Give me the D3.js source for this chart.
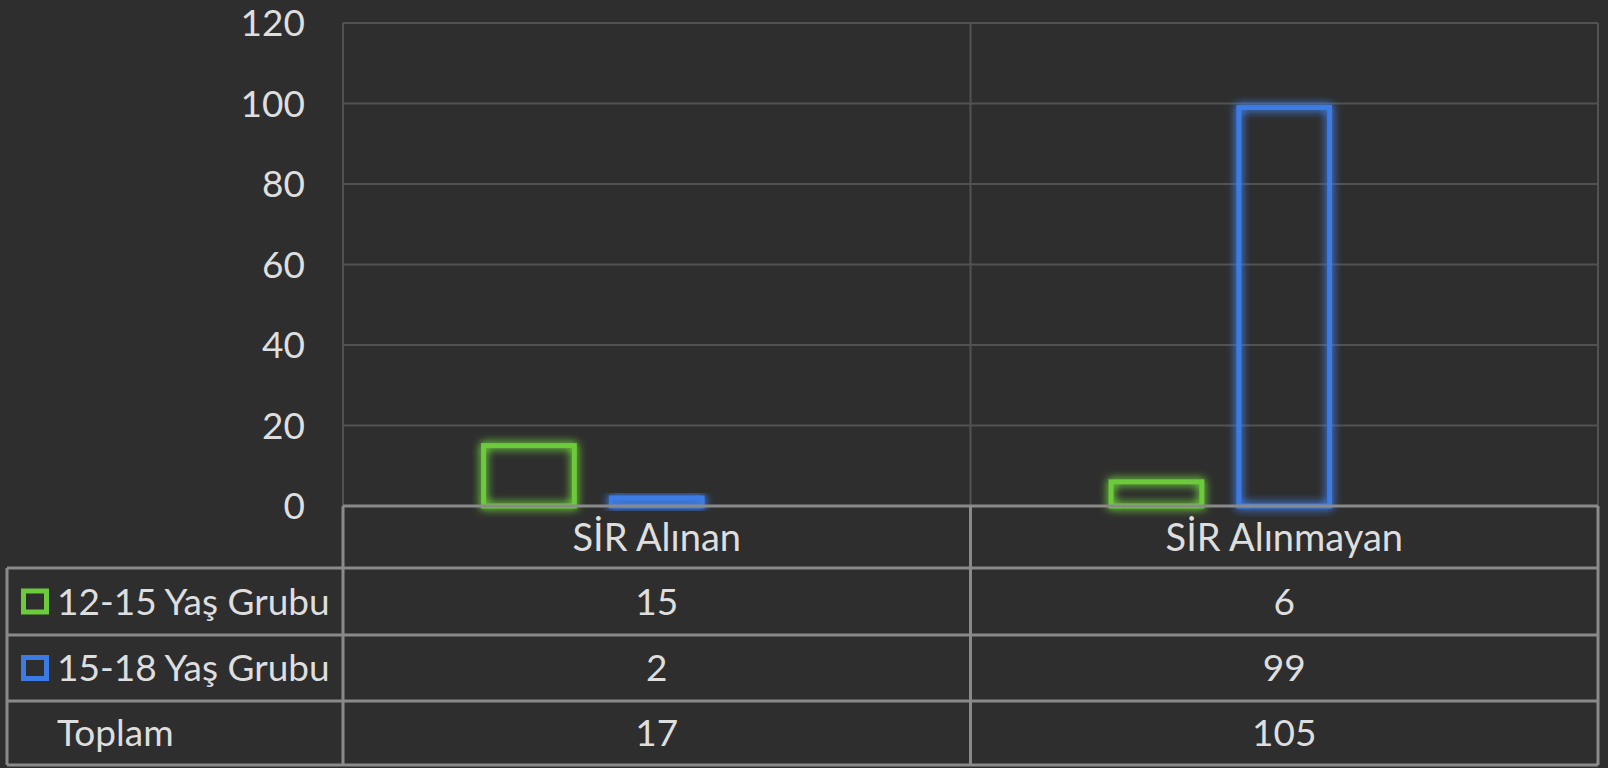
<!DOCTYPE html>
<html>
<head>
<meta charset="utf-8">
<script src="https://cdn.jsdelivr.net/npm/d3@7"></script>
<style>
  html, body { margin: 0; padding: 0; background: #2e2e2e; }
  svg { display: block; }
</style>
</head>
<body>
<svg id="chart"></svg>
<script>
// dati del grafico
const categories = ["SİR Alınan", "SİR Alınmayan"];
const seriesNames = ["12-15 Yaş Grubu", "15-18 Yaş Grubu", "Toplam"];
const grp1215 = [15, 6];
const grp1518 = [2, 99];
const toplam = [17, 105];
const yTicks = [0, 20, 40, 60, 80, 100, 120];

const seriesValues = [grp1215, grp1518, toplam];
const seriesColor = ["#6ccb3a", "#3d7be4", "none"];

const width = 1608;
const height = 768;
const plotLeft = 343, plotRight = 1598, plotTop = 23, zero = 506;
const rowY = [506, 568, 635, 701, 765]; // righe della tabella dati
const tableLeft = 7;
const font = "Lato, 'Open Sans', sans-serif";
const fontSize = "37px";
const textColor = "#dedede";
const borderColor = "#8a8a8a";

const svg = d3.select("#chart")
  .attr("width", width)
  .attr("height", height);

// filtro per il bagliore delle barre
const defs = svg.append("defs");
const glow = defs.append("filter").attr("id", "glow")
  .attr("x", "-50%").attr("y", "-50%").attr("width", "200%").attr("height", "200%");
glow.append("feGaussianBlur").attr("in", "SourceGraphic").attr("stdDeviation", 5).attr("result", "blur");
glow.append("feComponentTransfer").attr("in", "blur").attr("result", "blur2")
  .append("feFuncA").attr("type", "linear").attr("slope", 1.5);
const merge = glow.append("feMerge");
merge.append("feMergeNode").attr("in", "blur2");
merge.append("feMergeNode").attr("in", "SourceGraphic");

const y = d3.scaleLinear().domain([0, 120]).range([zero, plotTop]);

const x0 = d3.scaleBand().domain(categories).range([plotLeft, plotRight]).padding(0);

const x1 = d3.scaleBand().domain(seriesNames).range([0, x0.bandwidth()])
  .paddingInner(0.29).paddingOuter(1.1);

// griglia orizzontale
svg.append("g")
  .selectAll("line")
  .data(yTicks.filter(d => d > 0))
  .join("line")
  .attr("x1", plotLeft).attr("x2", plotRight)
  .attr("y1", d => y(d)).attr("y2", d => y(d))
  .attr("stroke", "#525252")
  .attr("stroke-width", 2);

// griglia verticale (bordi delle categorie)
const vx = [plotLeft, ...categories.map(c => x0(c) + x0.bandwidth())];
svg.append("g")
  .selectAll("line")
  .data(vx)
  .join("line")
  .attr("x1", d => d).attr("x2", d => d)
  .attr("y1", plotTop).attr("y2", zero)
  .attr("stroke", "#525252")
  .attr("stroke-width", 2);

// etichette asse y
svg.append("g")
  .selectAll("text")
  .data(yTicks)
  .join("text")
  .attr("x", 305)
  .attr("y", d => y(d))
  .attr("dy", "0.36em")
  .attr("text-anchor", "end")
  .attr("fill", textColor)
  .style("font-family", font)
  .style("font-size", fontSize)
  .text(d => d);

// barre
const barData = [];
categories.forEach((c, i) => {
  seriesNames.forEach((s, j) => {
    barData.push({ cat: c, series: s, value: seriesValues[j][i], color: seriesColor[j] });
  });
});

svg.append("g")
  .selectAll("rect")
  .data(barData.filter(d => d.color !== "none"))
  .join("rect")
  .attr("x", d => x0(d.cat) + x1(d.series))
  .attr("y", d => y(d.value))
  .attr("width", x1.bandwidth())
  .attr("height", d => y(0) - y(d.value))
  .attr("fill", "none")
  .attr("stroke", d => d.color)
  .attr("stroke-width", 5)
  .attr("filter", "url(#glow)");

// tabella dati
const table = svg.append("g");

// celle intestazione
table.selectAll("text.head")
  .data(categories)
  .join("text")
  .attr("class", "head")
  .attr("x", d => x0(d) + x0.bandwidth() / 2)
  .attr("y", (rowY[0] + rowY[1]) / 2)
  .attr("dy", "0.36em")
  .attr("text-anchor", "middle")
  .attr("fill", textColor)
  .style("font-family", font)
  .style("font-size", "38px")
  .text(d => d);

// valori
seriesNames.forEach((s, j) => {
  const cy = (rowY[j + 1] + rowY[j + 2]) / 2;
  table.append("g")
    .selectAll("text")
    .data(seriesValues[j])
    .join("text")
    .attr("x", (d, i) => x0(categories[i]) + x0.bandwidth() / 2)
    .attr("y", cy)
    .attr("dy", "0.36em")
    .attr("text-anchor", "middle")
    .attr("fill", textColor)
    .style("font-family", font)
    .style("font-size", fontSize)
    .text(d => d);

  table.append("text")
    .attr("x", 57)
    .attr("y", cy)
    .attr("dy", "0.36em")
    .attr("fill", textColor)
    .style("font-family", font)
    .style("font-size", "37px")
    .text(s);

  // chiave della legenda
  if (seriesColor[j] !== "none") {
    table.append("rect")
      .attr("x", 23.5)
      .attr("y", cy - 10.5)
      .attr("width", 23)
      .attr("height", 21)
      .attr("fill", "none")
      .attr("stroke", seriesColor[j])
      .attr("stroke-width", 5);
  }
});

// bordi della tabella
const borders = table.append("g")
  .attr("stroke", borderColor)
  .attr("stroke-width", 3)
  .attr("fill", "none");

// orizzontali
borders.append("line").attr("x1", plotLeft).attr("x2", plotRight).attr("y1", rowY[0]).attr("y2", rowY[0]);
rowY.slice(1).forEach(yy => {
  borders.append("line").attr("x1", tableLeft).attr("x2", plotRight).attr("y1", yy).attr("y2", yy);
});
// verticali
borders.append("line").attr("x1", tableLeft).attr("x2", tableLeft).attr("y1", rowY[1]).attr("y2", rowY[4]);
vx.forEach(xx => {
  borders.append("line").attr("x1", xx).attr("x2", xx).attr("y1", rowY[0]).attr("y2", rowY[4]);
});
</script>
</body>
</html>
